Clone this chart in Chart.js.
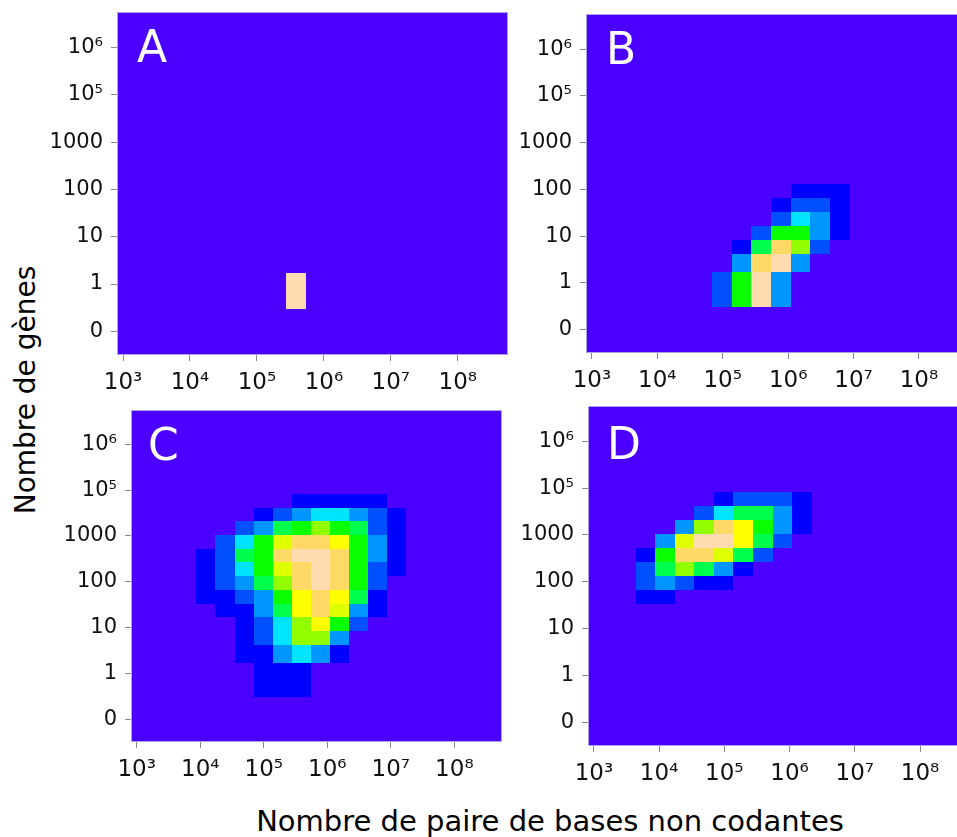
<!DOCTYPE html>
<html>
<head>
<meta charset="utf-8">
<script src="https://cdn.jsdelivr.net/npm/chart.js@4.4.0/dist/chart.umd.min.js"></script>
<style>
html,body{margin:0;padding:0;background:#fff;width:957px;height:837px;overflow:hidden}
body{position:relative;font-family:"DejaVu Sans",sans-serif}
canvas{position:absolute}
.letter{position:absolute;color:#fff;font-size:44px;line-height:1}
.title{position:absolute;color:#000;line-height:1;white-space:nowrap}
</style>
</head>
<body>
<canvas id="cA"></canvas>
<canvas id="cB"></canvas>
<canvas id="cC"></canvas>
<canvas id="cD"></canvas>
<div class="letter" style="left:137px;top:25px">A</div>
<div class="letter" style="left:606px;top:27px">B</div>
<div class="letter" style="left:148px;top:423px">C</div>
<div class="letter" style="left:607px;top:422px">D</div>
<div class="title" style="font-size:28px;left:25.7px;top:390px;transform:translate(-50%,-50%) rotate(-90deg)">Nombre de gènes</div>
<div class="title" style="font-size:29px;left:550px;top:806.6px;transform:translateX(-50%)">Nombre de paire de bases non codantes</div>
<script>
// axes : x = log10(paires de bases), y = rang logarithmique du nombre de gènes
const X_MIN = 2.91, X_MAX = 8.75;
const Y_MIN = -0.5, Y_MAX = 6.75;
const X_TICKS = [3, 4, 5, 6, 7, 8];
const X_LABELS = ["10³", "10⁴", "10⁵", "10⁶", "10⁷", "10⁸"];
const Y_TICKS = [0, 1, 2, 3, 4, 5, 6];
const Y_LABELS = ["0", "1", "10", "100", "1000", "10⁵", "10⁶"];

// bornes des classes (12 colonnes, 13 lignes)
const X_EDGES = [3.64, 3.94, 4.24, 4.54, 4.84, 5.14, 5.44, 5.74, 6.04, 6.34, 6.64, 6.94, 7.24];
const Y_EDGES = [0.48, 1.23, 1.62, 1.92, 2.22, 2.52, 2.82, 3.12, 3.42, 3.72, 4.02, 4.32, 4.62, 4.92];

// niveaux de densité : "." = vide, 1..9, a=10, b=11 ; lignes du haut vers le bas
const GRID_A = [
  "............","............","............","............","............",
  "............","............","............","............","............",
  "............","............",
  "......b....."
];
const GRID_B = [
  "............","............","............","............","............",
  "............",
  "........111.",
  ".......1221.",
  ".......2431.",
  "......26631.",
  ".....15a72..",
  ".....3ab3...",
  "....26b3...."
];
const GRID_C = [
  "......11111.",
  "....12344321",
  "...235676521",
  "..2468aa9631",
  ".1256abba631",
  ".12468aba621",
  ".12357aba62.",
  ".112369a951.",
  "..11359a831.",
  "...1247962..",
  "...124773...",
  "...113431...",
  "....111....."
];
const GRID_D = [
  "....12221...",
  "...245531...",
  "..37a9631...",
  ".38bb952....",
  "16aa852.....",
  "257531......",
  "23211.......",
  "11..........",
  "............","............","............","............","............"
];

const BG = "#4b00ff";
const LEVEL_COLORS = [BG, "#0000ff", "#0050ff", "#0096ff", "#00e4ff", "#00ff4c",
  "#0aff00", "#92ff00", "#e0ff00", "#ffff00", "#ffd966", "#ffdcb0"];

const FONT = "'DejaVu Sans', sans-serif";
const Y_AXIS_W = 75, X_AXIS_H = 45;

function buildCells(grid){
  const cells = [];
  const nRows = Y_EDGES.length - 1;
  grid.forEach((row, i) => {
    const r = nRows - 1 - i;
    row.split("").forEach((ch, c) => {
      if(ch === ".") return;
      const x0 = X_EDGES[c], x1 = X_EDGES[c+1], y0 = Y_EDGES[r], y1 = Y_EDGES[r+1];
      cells.push({x:(x0+x1)/2, y:(y0+y1)/2, x0, x1, y0, y1, v:parseInt(ch, 16)});
    });
  });
  return cells;
}

const heatPlugin = {
  id: "heat",
  beforeDatasetsDraw(chart){
    const {ctx, chartArea:a, scales:{x, y}} = chart;
    ctx.save();
    ctx.fillStyle = BG;
    ctx.fillRect(a.left, a.top, a.right - a.left, a.bottom - a.top);
    chart.data.datasets[0].data.forEach(c => {
      const l = Math.round(x.getPixelForValue(c.x0)), r = Math.round(x.getPixelForValue(c.x1));
      const t = Math.round(y.getPixelForValue(c.y1)), b = Math.round(y.getPixelForValue(c.y0));
      ctx.fillStyle = LEVEL_COLORS[c.v];
      ctx.fillRect(l, t, r - l, b - t);
    });
    ctx.strokeStyle = "#aaa2e6";
    ctx.lineWidth = 1;
    ctx.strokeRect(Math.round(a.left) + 0.5, Math.round(a.top) + 0.5,
      Math.round(a.right - a.left) - 1, Math.round(a.bottom - a.top) - 1);
    ctx.restore();
  }
};

function axis(min, max, ticks, labels, horiz){
  return {
    type: "linear", min, max,
    afterBuildTicks: s => { s.ticks = ticks.map(v => ({value: v})); },
    afterFit: s => {
      if(horiz){ s.height = X_AXIS_H; s.paddingLeft = 0; s.paddingRight = 0; }
      else{ s.width = Y_AXIS_W; s.paddingTop = 0; s.paddingBottom = 0; }
    },
    ticks: {
      callback: (v, i) => labels[i],
      font: {family: FONT, size: horiz ? 23 : 21}, color: "#111",
      padding: horiz ? 8 : 8, maxRotation: 0, autoSkip: false
    },
    grid: {drawOnChartArea: false, tickLength: 6, tickColor: "#8a8a8a", tickWidth: 1},
    border: {display: false}
  };
}

function makePanel(id, grid, rect){
  const canvas = document.getElementById(id);
  const pw = rect.r - rect.l, ph = rect.b - rect.t;
  canvas.width = pw + Y_AXIS_W;
  canvas.height = ph + X_AXIS_H;
  const chart = new Chart(canvas, {
    type: "scatter",
    data: {datasets: [{data: buildCells(grid), pointRadius: 0, pointHoverRadius: 0}]},
    options: {
      responsive: false, maintainAspectRatio: false, animation: false, events: [],
      devicePixelRatio: 1,
      layout: {padding: 0},
      plugins: {legend: {display: false}, tooltip: {enabled: false}},
      scales: {
        x: axis(X_MIN, X_MAX, X_TICKS, X_LABELS, true),
        y: axis(Y_MIN, Y_MAX, Y_TICKS, Y_LABELS, false)
      }
    },
    plugins: [heatPlugin]
  });
  let a = chart.chartArea;
  const dw = pw - (a.right - a.left), dh = ph - (a.bottom - a.top);
  if(Math.abs(dw) > 0.5 || Math.abs(dh) > 0.5){
    chart.resize(canvas.width + dw, canvas.height + dh);
    a = chart.chartArea;
  }
  canvas.style.left = (rect.l - a.left) + "px";
  canvas.style.top = (rect.t - a.top) + "px";
}

makePanel("cA", GRID_A, {l:117, t:12, r:508, b:355});
makePanel("cB", GRID_B, {l:586, t:14, r:968, b:353});
makePanel("cC", GRID_C, {l:131, t:410, r:502, b:742});
makePanel("cD", GRID_D, {l:588, t:406, r:969, b:746});
</script>
</body>
</html>
